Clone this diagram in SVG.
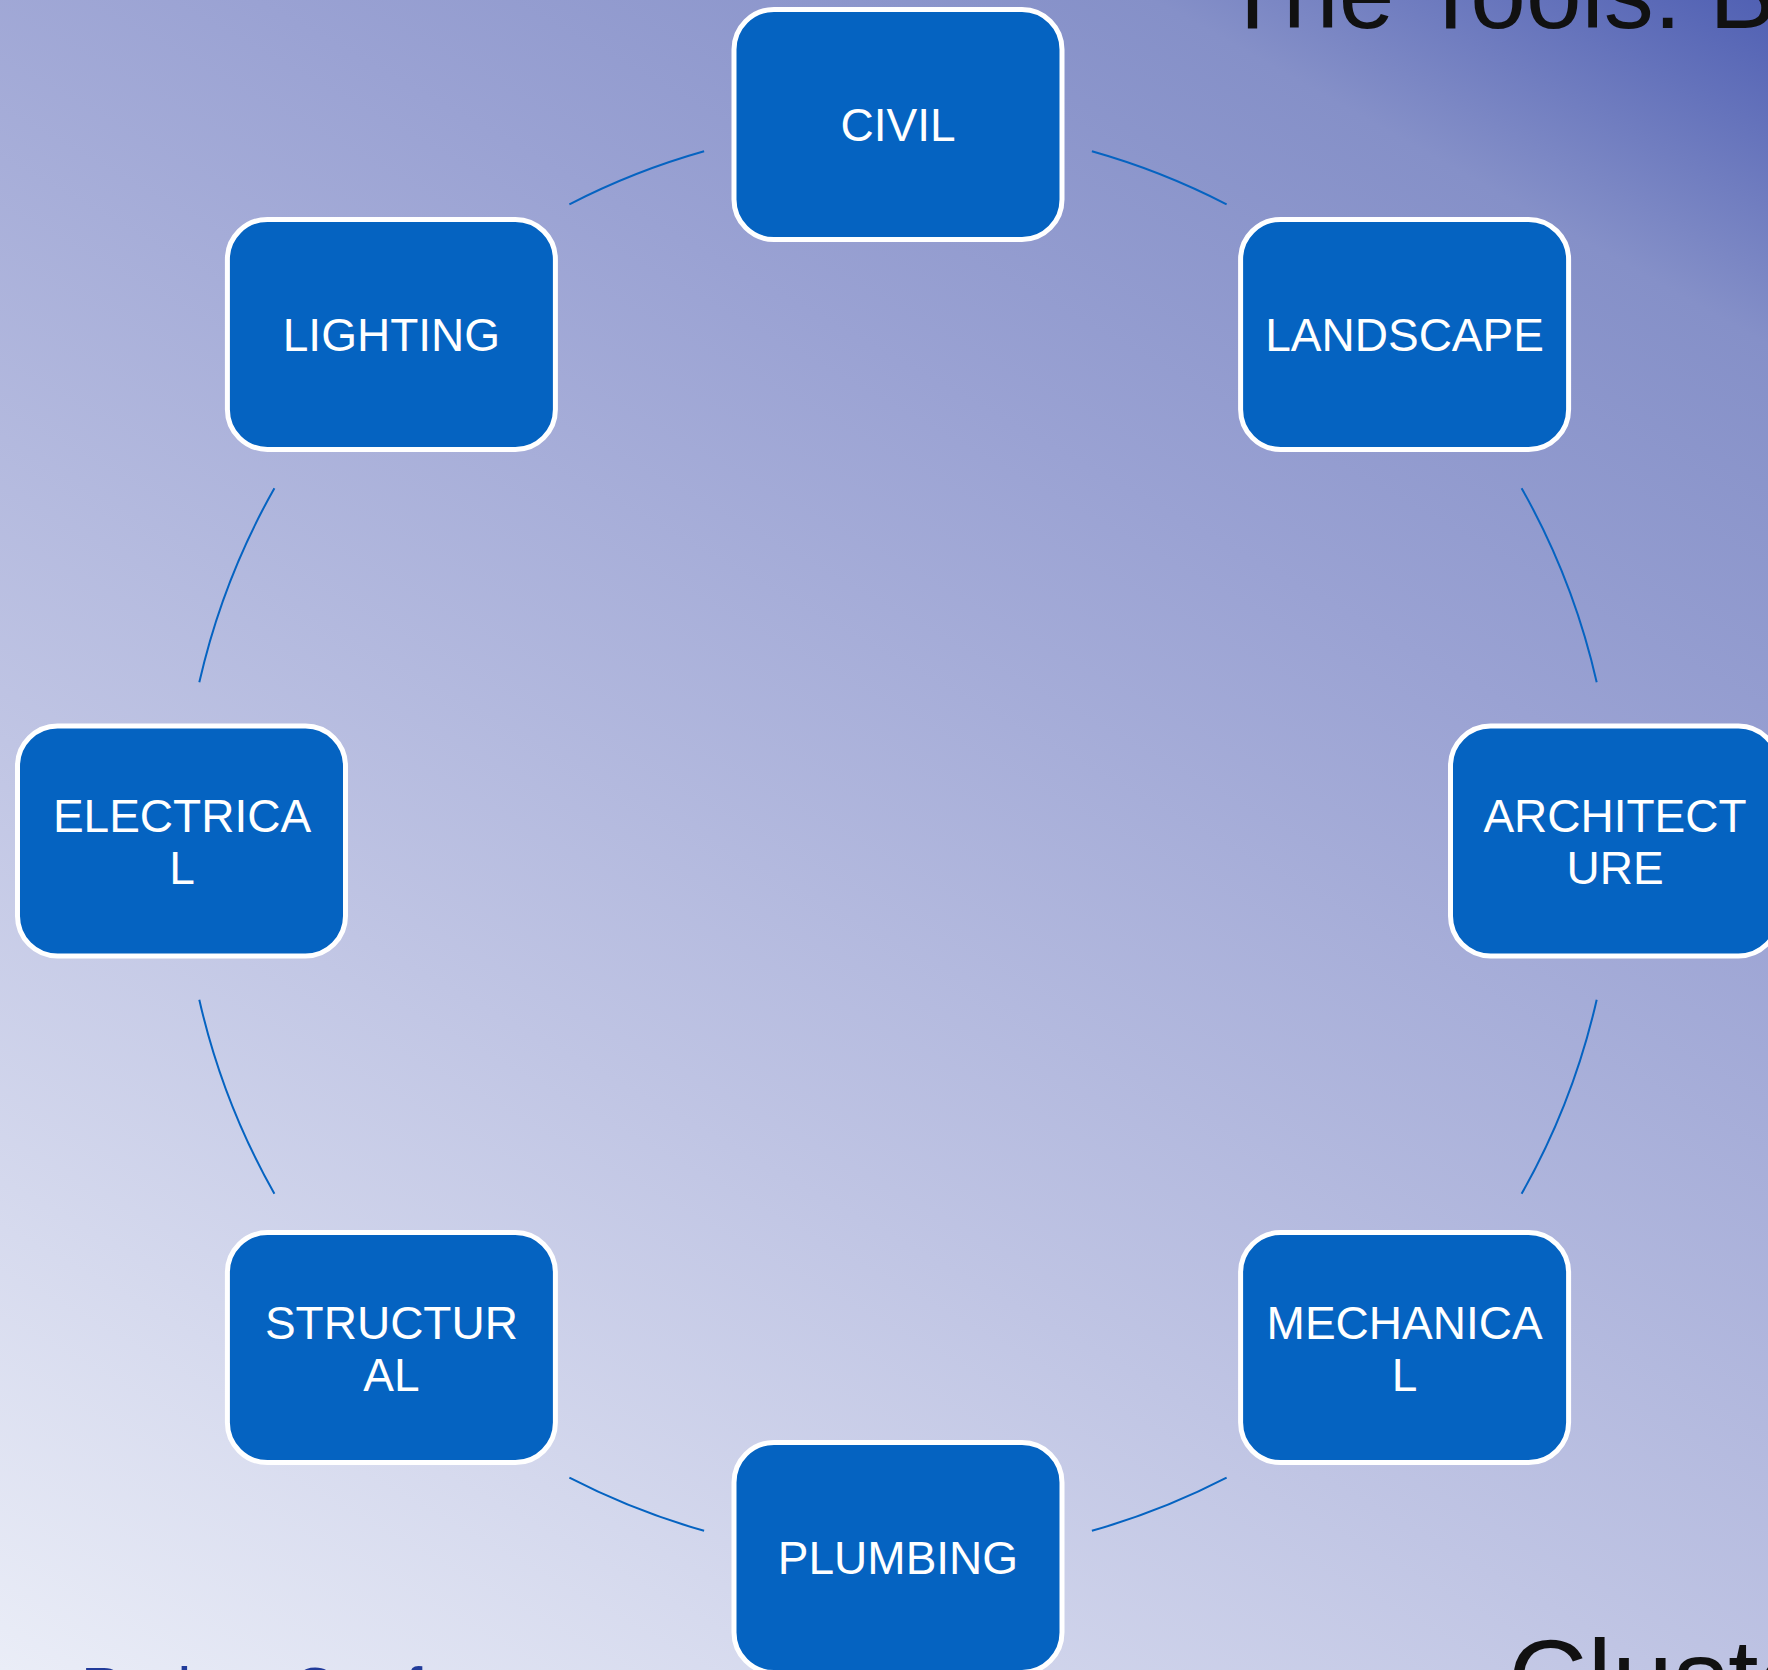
<svg xmlns="http://www.w3.org/2000/svg" width="1768" height="1670" viewBox="0 0 1768 1670">
  <defs>
    <linearGradient id="bg" gradientUnits="userSpaceOnUse" x1="0" y1="1670" x2="1137" y2="-356">
      <stop offset="0" stop-color="#EAEDF7"/>
      <stop offset="0.35" stop-color="#C0C5E4"/>
      <stop offset="0.68" stop-color="#9AA2D3"/>
      <stop offset="0.87" stop-color="#8590C8"/>
      <stop offset="1" stop-color="#5060B3"/>
    </linearGradient>
    <style>
      .box { fill: #0563C1; stroke: #FFFFFF; stroke-width: 5; }
      .lbl { font-family: "Liberation Sans", Arial, sans-serif; font-size: 46px; fill: #FFFFFF; text-anchor: middle; }
      .link { fill: none; stroke: #0563C1; stroke-width: 2; }
      .title { font-family: "Liberation Sans", Arial, sans-serif; fill: #111111; }
    </style>
  </defs>

  <!-- slide background -->
  <rect x="0" y="0" width="1768" height="1670" fill="url(#bg)"/>

  <!-- slide text around the cycle, mostly outside the visible area -->
  <text class="title" x="1222" y="28" font-size="100">The Tools: B</text>
  <text class="title" x="1508" y="1716" font-size="110">Cluste</text>
  <text x="81" y="1710" font-family="Liberation Sans, Arial, sans-serif" font-size="62" fill="#213B9A">Project Conf</text>

  <!-- arcs of the cycle, circle centre (898,841), r 716.5 -->
  <g id="connectors">
    <path class="link" d="M 1091.9 151.2 A 716.5 716.5 0 0 1 1226.6 204.3"/>
    <path class="link" d="M 1521.6 488.2 A 716.5 716.5 0 0 1 1596.7 682.3"/>
    <path class="link" d="M 1596.7 999.7 A 716.5 716.5 0 0 1 1521.6 1193.8"/>
    <path class="link" d="M 1226.6 1477.7 A 716.5 716.5 0 0 1 1091.9 1530.8"/>
    <path class="link" d="M 704.1 1530.8 A 716.5 716.5 0 0 1 569.4 1477.7"/>
    <path class="link" d="M 274.4 1193.8 A 716.5 716.5 0 0 1 199.3 999.7"/>
    <path class="link" d="M 199.3 682.3 A 716.5 716.5 0 0 1 274.4 488.2"/>
    <path class="link" d="M 569.4 204.3 A 716.5 716.5 0 0 1 704.1 151.2"/>
  </g>

  <g id="node-civil">
    <rect class="box" x="734" y="9.5" width="328" height="230" rx="40"/>
    <text class="lbl" x="898" y="141">CIVIL</text>
  </g>
  <g id="node-landscape">
    <rect class="box" x="1240.6" y="219.4" width="328" height="230" rx="40"/>
    <text class="lbl" x="1404.6" y="351">LANDSCAPE</text>
  </g>
  <g id="node-architecture">
    <rect class="box" x="1450.5" y="726" width="328" height="230" rx="40"/>
    <text class="lbl" x="1615" y="832">ARCHITECT</text>
    <text class="lbl" x="1615" y="884">URE</text>
  </g>
  <g id="node-mechanical">
    <rect class="box" x="1240.6" y="1232.6" width="328" height="230" rx="40"/>
    <text class="lbl" x="1404.6" y="1339">MECHANICA</text>
    <text class="lbl" x="1404.6" y="1391">L</text>
  </g>
  <g id="node-plumbing">
    <rect class="box" x="734" y="1442.5" width="328" height="230" rx="40"/>
    <text class="lbl" x="898" y="1574">PLUMBING</text>
  </g>
  <g id="node-structural">
    <rect class="box" x="227.4" y="1232.6" width="328" height="230" rx="40"/>
    <text class="lbl" x="391.4" y="1339">STRUCTUR</text>
    <text class="lbl" x="391.4" y="1391">AL</text>
  </g>
  <g id="node-electrical">
    <rect class="box" x="17.5" y="726" width="328" height="230" rx="40"/>
    <text class="lbl" x="182" y="832">ELECTRICA</text>
    <text class="lbl" x="182" y="884">L</text>
  </g>
  <g id="node-lighting">
    <rect class="box" x="227.4" y="219.4" width="328" height="230" rx="40"/>
    <text class="lbl" x="391.4" y="351">LIGHTING</text>
  </g>
</svg>
